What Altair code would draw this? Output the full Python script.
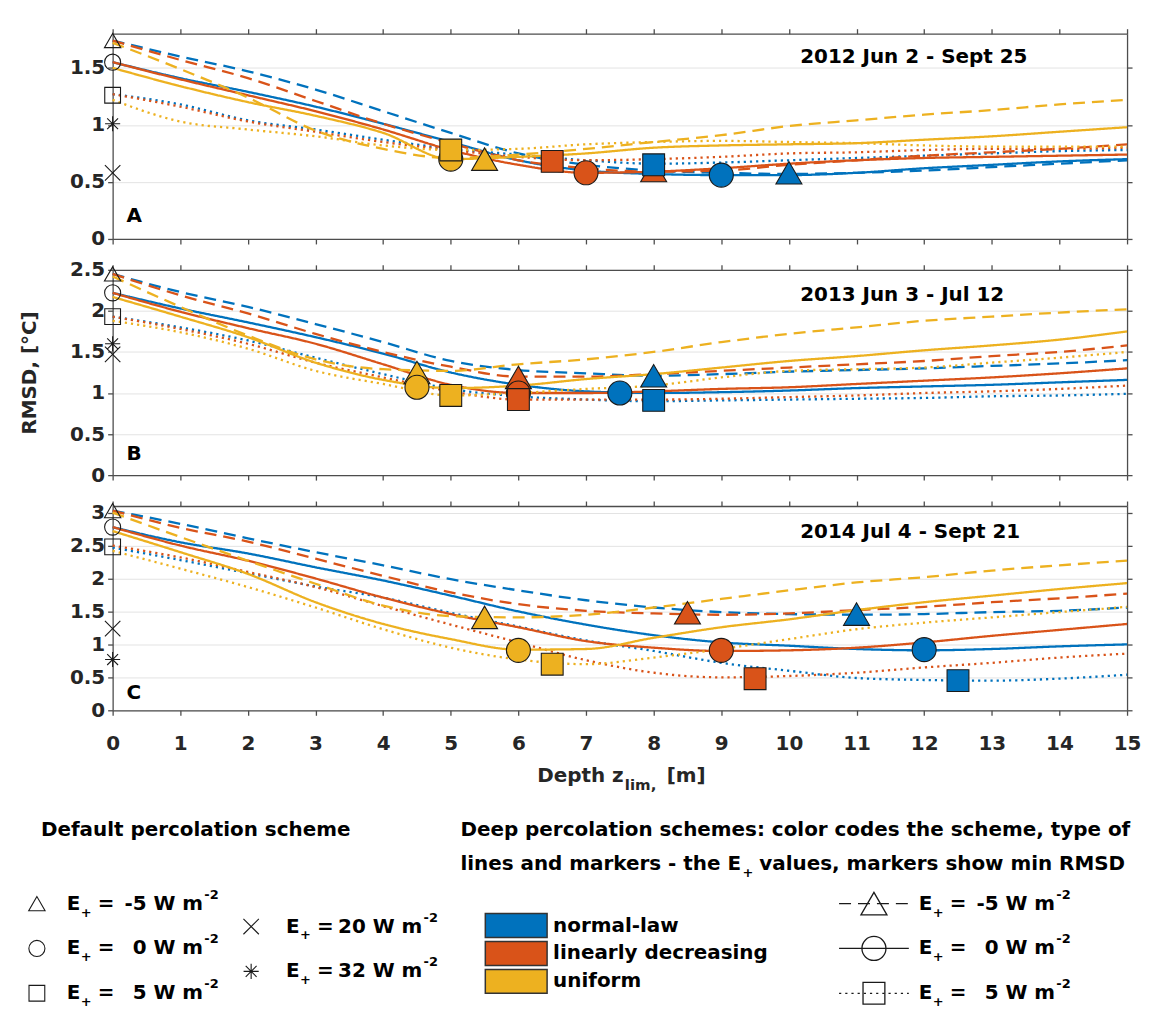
import altair as alt
import pandas as pd

# ---------------- data ----------------
DEPTH = list(range(16))
X_TICKS = list(range(16))
SCHEMES = ["normal-law", "linearly decreasing", "uniform"]
SCHEME_COLORS = ["#0072BD", "#D95319", "#EDB120"]
E_PLUS = ["-5", "0", "5"]
DEFAULT_E = ["-5", "0", "5", "20", "32"]

# Panel A: 2012 Jun 2 - Sept 25
A_NORMAL_M5 = [1.74, 1.60, 1.47, 1.31, 1.12, 0.93, 0.75, 0.65, 0.60, 0.58, 0.57, 0.58, 0.60, 0.63, 0.66, 0.69]
A_NORMAL_0 = [1.55, 1.41, 1.29, 1.16, 1.01, 0.85, 0.69, 0.60, 0.57, 0.56, 0.56, 0.58, 0.62, 0.65, 0.68, 0.70]
A_NORMAL_P5 = [1.27, 1.18, 1.04, 0.96, 0.87, 0.79, 0.74, 0.69, 0.66, 0.67, 0.69, 0.71, 0.73, 0.75, 0.77, 0.78]
A_LINEAR_M5 = [1.74, 1.57, 1.41, 1.21, 1.01, 0.84, 0.69, 0.62, 0.59, 0.60, 0.65, 0.69, 0.73, 0.76, 0.79, 0.83]
A_LINEAR_0 = [1.55, 1.40, 1.26, 1.12, 0.96, 0.78, 0.65, 0.58, 0.59, 0.62, 0.66, 0.69, 0.71, 0.72, 0.73, 0.74]
A_LINEAR_P5 = [1.27, 1.16, 1.03, 0.94, 0.85, 0.78, 0.72, 0.69, 0.70, 0.72, 0.75, 0.76, 0.78, 0.79, 0.79, 0.80]
A_UNIFORM_M5 = [1.72, 1.49, 1.24, 0.95, 0.79, 0.71, 0.74, 0.79, 0.85, 0.91, 0.99, 1.04, 1.09, 1.13, 1.18, 1.22]
A_UNIFORM_0 = [1.50, 1.34, 1.20, 1.08, 0.93, 0.70, 0.72, 0.75, 0.80, 0.82, 0.83, 0.84, 0.87, 0.90, 0.94, 0.98]
A_UNIFORM_P5 = [1.22, 1.03, 0.96, 0.90, 0.82, 0.78, 0.79, 0.83, 0.85, 0.86, 0.85, 0.84, 0.82, 0.81, 0.81, 0.81]
A_MIN_X = [10, 9, 8, 8, 7, 6.5, 5.5, 5, 5]
A_MIN_Y = [0.58, 0.56, 0.65, 0.60, 0.58, 0.68, 0.70, 0.70, 0.78]
A_DEFAULT = [1.74, 1.55, 1.26, 0.58, 1.01]

# Panel B: 2013 Jun 3 - Jul 12
B_NORMAL_M5 = [2.45, 2.23, 2.05, 1.84, 1.62, 1.39, 1.28, 1.24, 1.21, 1.23, 1.26, 1.28, 1.30, 1.33, 1.36, 1.40]
B_NORMAL_0 = [2.22, 2.03, 1.86, 1.68, 1.48, 1.25, 1.10, 1.02, 1.00, 1.01, 1.03, 1.06, 1.08, 1.10, 1.13, 1.16]
B_NORMAL_P5 = [1.93, 1.80, 1.64, 1.43, 1.23, 1.05, 0.96, 0.92, 0.90, 0.91, 0.92, 0.93, 0.94, 0.96, 0.97, 0.99]
B_LINEAR_M5 = [2.45, 2.19, 1.97, 1.72, 1.50, 1.32, 1.20, 1.20, 1.23, 1.27, 1.31, 1.35, 1.39, 1.45, 1.50, 1.58]
B_LINEAR_0 = [2.22, 1.99, 1.79, 1.60, 1.35, 1.10, 1.00, 1.00, 1.02, 1.05, 1.07, 1.11, 1.15, 1.19, 1.24, 1.30]
B_LINEAR_P5 = [1.93, 1.78, 1.60, 1.37, 1.19, 1.02, 0.92, 0.92, 0.92, 0.93, 0.95, 0.97, 1.00, 1.02, 1.05, 1.09]
B_UNIFORM_M5 = [2.42, 2.05, 1.70, 1.41, 1.29, 1.27, 1.35, 1.41, 1.50, 1.62, 1.72, 1.80, 1.88, 1.93, 1.98, 2.02]
B_UNIFORM_0 = [2.17, 1.93, 1.68, 1.37, 1.16, 1.06, 1.09, 1.17, 1.23, 1.31, 1.39, 1.45, 1.52, 1.58, 1.65, 1.75]
B_UNIFORM_P5 = [1.88, 1.74, 1.54, 1.27, 1.11, 0.97, 1.00, 1.05, 1.09, 1.19, 1.27, 1.29, 1.31, 1.37, 1.43, 1.50]
B_MIN_X = [8, 7.5, 8, 6, 6, 6, 4.5, 4.5, 5]
B_MIN_Y = [1.21, 1.00, 0.91, 1.19, 1.00, 0.92, 1.25, 1.07, 0.97]
B_DEFAULT = [2.45, 2.22, 1.93, 1.47, 1.60]

# Panel C: 2014 Jul 4 - Sept 21
C_NORMAL_M5 = [3.03, 2.83, 2.61, 2.40, 2.20, 1.99, 1.82, 1.67, 1.56, 1.49, 1.46, 1.45, 1.46, 1.49, 1.51, 1.56]
C_NORMAL_0 = [2.78, 2.55, 2.38, 2.17, 1.97, 1.74, 1.50, 1.30, 1.14, 1.03, 0.98, 0.93, 0.91, 0.93, 0.97, 1.00]
C_NORMAL_P5 = [2.47, 2.28, 2.08, 1.88, 1.71, 1.48, 1.27, 1.06, 0.90, 0.72, 0.60, 0.49, 0.46, 0.45, 0.48, 0.54]
C_LINEAR_M5 = [3.03, 2.77, 2.56, 2.30, 2.04, 1.79, 1.61, 1.51, 1.47, 1.45, 1.47, 1.52, 1.57, 1.64, 1.70, 1.77]
C_LINEAR_0 = [2.78, 2.50, 2.27, 2.00, 1.71, 1.46, 1.26, 1.05, 0.95, 0.90, 0.91, 0.95, 1.03, 1.13, 1.22, 1.31]
C_LINEAR_P5 = [2.50, 2.32, 2.10, 1.87, 1.58, 1.30, 1.03, 0.76, 0.57, 0.50, 0.52, 0.57, 0.65, 0.72, 0.80, 0.86]
C_UNIFORM_M5 = [3.00, 2.63, 2.27, 1.92, 1.59, 1.43, 1.41, 1.45, 1.56, 1.69, 1.82, 1.94, 2.02, 2.12, 2.20, 2.27]
C_UNIFORM_0 = [2.72, 2.40, 2.07, 1.64, 1.31, 1.08, 0.92, 0.93, 1.10, 1.26, 1.38, 1.52, 1.64, 1.74, 1.84, 1.93]
C_UNIFORM_P5 = [2.42, 2.15, 1.87, 1.56, 1.23, 0.95, 0.77, 0.70, 0.80, 0.93, 1.08, 1.23, 1.33, 1.41, 1.49, 1.57]
C_MIN_X = [11, 12, 12.5, 8.5, 9, 9.5, 5.5, 6, 6.5]
C_MIN_Y = [1.46, 0.92, 0.45, 1.48, 0.91, 0.48, 1.41, 0.91, 0.70]
C_DEFAULT = [3.03, 2.78, 2.48, 1.24, 0.77]

TITLES = ["2012 Jun 2 - Sept 25", "2013 Jun 3 - Jul 12", "2014 Jul 4 - Sept 21"]
LETTERS = ["A", "B", "C"]

# ---------------- styles ----------------
FONT = "DejaVu Sans"
AXIS_COLOR = "#4d4d4d"
XPATH = "M-1,-1L1,1M-1,1L1,-1"
STAR = "M-1,0L1,0M0,-1L0,1M-0.72,-0.72L0.72,0.72M-0.72,0.72L0.72,-0.72"

COLOR_SCALE = alt.Scale(domain=SCHEMES, range=SCHEME_COLORS)
DASH_SCALE = alt.Scale(domain=E_PLUS, range=[[12, 7], [1, 0], [2.2, 4]])
MIN_SHAPE = alt.Scale(domain=E_PLUS, range=["triangle-up", "circle", "square"])
MIN_SIZE = alt.Scale(domain=E_PLUS, range=[680, 480, 300])
DEF_SHAPE = alt.Scale(domain=DEFAULT_E, range=["triangle-up", "circle", "square", XPATH, STAR])
DEF_SIZE = alt.Scale(domain=DEFAULT_E, range=[270, 230, 150, 110, 160])

PLOT_W = 1018


def line_table(series):
    rows = []
    for scheme, e, vals in series:
        for d, v in zip(DEPTH, vals):
            rows.append({"depth": d, "rmsd": v, "scheme": scheme, "e": e})
    return pd.DataFrame(rows)


def min_table(xs, ys):
    keys = [(s, e) for s in SCHEMES for e in E_PLUS]
    rows = [{"depth": x, "rmsd": y, "scheme": k[0], "e": k[1], "eo": E_PLUS.index(k[1])}
            for k, x, y in zip(keys, xs, ys)]
    return pd.DataFrame(rows).sort_values("eo", kind="stable")


def default_table(vals):
    return pd.DataFrame({"depth": [0] * len(vals), "rmsd": vals, "e": DEFAULT_E})


def panel(series, min_x, min_y, defaults, ymax, yticks, height, title, title_y,
          letter, letter_y, is_bottom, ytitle):
    xs = alt.Scale(domain=[0, 15], nice=False, zero=False)
    ys = alt.Scale(domain=[0, ymax], nice=False, zero=False)

    bottom_kw = dict(orient="bottom", values=X_TICKS, labels=is_bottom, grid=False,
                     labelFlush=False, format="d", tickSize=5, labelPadding=18, title=None)
    left_kw = dict(orient="left", values=yticks, format="~g", grid=True, tickSize=5,
                   labelPadding=3, title=None)
    if ytitle:
        left_kw.update(title=ytitle, titleFontSize=20, titleFontWeight="bold", titleFont=FONT,
                       titlePadding=30, titleColor="#262626")

    lines = alt.Chart(line_table(series)).mark_line(strokeWidth=2.3, interpolate="monotone").encode(
        x=alt.X("depth:Q", scale=xs, axis=alt.Axis(**bottom_kw)),
        y=alt.Y("rmsd:Q", scale=ys, axis=alt.Axis(**left_kw)),
        color=alt.Color("scheme:N", scale=COLOR_SCALE, legend=None),
        strokeDash=alt.StrokeDash("e:N", scale=DASH_SCALE, legend=None),
    )

    defs = alt.Chart(default_table(defaults)).mark_point(
        filled=False, color="#1a1a1a", strokeWidth=1.1, opacity=1).encode(
        x=alt.X("depth:Q", scale=xs, axis=alt.Axis(orient="top", values=X_TICKS, labels=False,
                                                    grid=False, tickSize=5, title=None)),
        y=alt.Y("rmsd:Q", scale=ys, axis=alt.Axis(orient="right", values=yticks, labels=False,
                                                   grid=False, tickSize=5, title=None)),
        shape=alt.Shape("e:N", scale=DEF_SHAPE, legend=None),
        size=alt.Size("e:O", scale=DEF_SIZE, legend=None),
    )

    mins = alt.Chart(min_table(min_x, min_y)).mark_point(
        filled=True, stroke="#1a1a1a", strokeWidth=1.1, opacity=1, fillOpacity=1).encode(
        x=alt.X("depth:Q", scale=xs, axis=None),
        y=alt.Y("rmsd:Q", scale=ys, axis=None),
        fill=alt.Fill("scheme:N", scale=COLOR_SCALE, legend=None),
        shape=alt.Shape("e:N", scale=MIN_SHAPE, legend=None),
        size=alt.Size("e:O", scale=MIN_SIZE, legend=None),
    )

    ttl = alt.Chart(pd.DataFrame({"t": [title]})).mark_text(
        align="left", baseline="middle", font=FONT, fontSize=20, fontWeight="bold", color="black").encode(
        x=alt.value(690), y=alt.value(title_y), text="t:N")
    let = alt.Chart(pd.DataFrame({"t": [letter]})).mark_text(
        align="left", baseline="middle", font=FONT, fontSize=20, fontWeight="bold", color="black").encode(
        x=alt.value(14), y=alt.value(letter_y), text="t:N")

    layers = [lines, mins, defs, ttl, let]
    if is_bottom:
        xt = pd.DataFrame({"t": ["Depth z", "lim,", "[m]"], "px": [426, 514, 556],
                           "py": [271, 280, 271], "fs": [20, 15, 20]})
        xtitle = alt.Chart(xt).mark_text(align="left", baseline="middle", font=FONT,
                                         fontWeight="bold", color="#262626").encode(
            x=alt.X("px:Q", scale=None, axis=None),
            y=alt.Y("py:Q", scale=None, axis=None),
            size=alt.Size("fs:Q", scale=None, legend=None),
            text="t:N")
        layers.append(xtitle)

    return alt.layer(*layers).resolve_scale(
        shape="independent", size="independent").resolve_axis(
        x="independent", y="independent").properties(width=PLOT_W, height=height)


A = panel([(SCHEMES[0], "-5", A_NORMAL_M5), (SCHEMES[0], "0", A_NORMAL_0), (SCHEMES[0], "5", A_NORMAL_P5),
           (SCHEMES[1], "-5", A_LINEAR_M5), (SCHEMES[1], "0", A_LINEAR_0), (SCHEMES[1], "5", A_LINEAR_P5),
           (SCHEMES[2], "-5", A_UNIFORM_M5), (SCHEMES[2], "0", A_UNIFORM_0), (SCHEMES[2], "5", A_UNIFORM_P5)],
          A_MIN_X, A_MIN_Y, A_DEFAULT, 1.8, [0, 0.5, 1, 1.5], 206, TITLES[0], 23, LETTERS[0], 183, False, "")
B = panel([(SCHEMES[0], "-5", B_NORMAL_M5), (SCHEMES[0], "0", B_NORMAL_0), (SCHEMES[0], "5", B_NORMAL_P5),
           (SCHEMES[1], "-5", B_LINEAR_M5), (SCHEMES[1], "0", B_LINEAR_0), (SCHEMES[1], "5", B_LINEAR_P5),
           (SCHEMES[2], "-5", B_UNIFORM_M5), (SCHEMES[2], "0", B_UNIFORM_0), (SCHEMES[2], "5", B_UNIFORM_P5)],
          B_MIN_X, B_MIN_Y, B_DEFAULT, 2.5, [0, 0.5, 1, 1.5, 2, 2.5], 206, TITLES[1], 25, LETTERS[1], 185,
          False, "RMSD, [°C]")
C = panel([(SCHEMES[0], "-5", C_NORMAL_M5), (SCHEMES[0], "0", C_NORMAL_0), (SCHEMES[0], "5", C_NORMAL_P5),
           (SCHEMES[1], "-5", C_LINEAR_M5), (SCHEMES[1], "0", C_LINEAR_0), (SCHEMES[1], "5", C_LINEAR_P5),
           (SCHEMES[2], "-5", C_UNIFORM_M5), (SCHEMES[2], "0", C_UNIFORM_0), (SCHEMES[2], "5", C_UNIFORM_P5)],
          C_MIN_X, C_MIN_Y, C_DEFAULT, 3.1, [0, 0.5, 1, 1.5, 2, 2.5, 3], 205, TITLES[2], 26, LETTERS[2], 188,
          True, "")

# ---------------- legend panel (page-pixel layout) ----------------
GAP = 31
LT = 30 + 206 + GAP + 206 + GAP + 205 + GAP
LB = 1008
LXS = alt.Scale(domain=[114, 114 + PLOT_W], nice=False, zero=False)
LYS = alt.Scale(domain=[LT, LB], reverse=True, nice=False, zero=False)
ROWS = [903, 948, 993]
ROWS2 = [926, 971]
SWATCH_ROWS = [925, 953, 981]


def e_label(x0, y, val, left, right):
    left += [("E", x0, y, 20), ("+", x0 + 14, y + 9, 13), ("=", x0 + 31, y, 20),
             ("W m", x0 + 87, y, 20), ("-2", x0 + 138, y - 9, 13)]
    right.append((val, x0 + 80, y, 20))


left_items = [("Default percolation scheme", 42, 829, 20),
              ("Deep percolation schemes: color codes the scheme, type of", 463, 829, 20),
              ("lines and markers - the E", 463, 863, 20),
              ("+", 746, 872, 13),
              ("values, markers show min RMSD", 763, 863, 20)]
right_items = []
for s, y in zip(SCHEMES, SWATCH_ROWS):
    left_items.append((s, 556, y, 20))
for v, y in zip(E_PLUS, ROWS):
    e_label(68, y, v, left_items, right_items)
    e_label(923, y, v, left_items, right_items)
for v, y in zip(DEFAULT_E[3:], ROWS2):
    e_label(288, y, v, left_items, right_items)


def text_layer(items, align):
    df = pd.DataFrame(items, columns=["t", "px", "py", "fs"])
    return alt.Chart(df).mark_text(align=align, baseline="middle", font=FONT, fontWeight="bold",
                                   color="black").encode(
        x=alt.X("px:Q", scale=LXS, axis=None), y=alt.Y("py:Q", scale=LYS, axis=None),
        size=alt.Size("fs:Q", scale=None, legend=None), text="t:N")


def_sym = pd.DataFrame({"px": [38, 38, 38, 253, 253], "py": ROWS + ROWS2, "e": DEFAULT_E})
def_sym_layer = alt.Chart(def_sym).mark_point(filled=False, color="#1a1a1a", strokeWidth=1.1, opacity=1).encode(
    x=alt.X("px:Q", scale=LXS, axis=None), y=alt.Y("py:Q", scale=LYS, axis=None),
    shape=alt.Shape("e:N", scale=DEF_SHAPE, legend=None),
    size=alt.Size("e:O", scale=DEF_SIZE, legend=None))

sw = pd.DataFrame({"scheme": SCHEMES, "x1": [488] * 3, "x2": [550] * 3,
                   "y1": [y - 12 for y in SWATCH_ROWS], "y2": [y + 12 for y in SWATCH_ROWS]})
sw_layer = alt.Chart(sw).mark_rect(stroke="#333333", strokeWidth=1.5).encode(
    x=alt.X("x1:Q", scale=LXS, axis=None), x2="x2:Q",
    y=alt.Y("y1:Q", scale=LYS, axis=None), y2="y2:Q",
    fill=alt.Fill("scheme:N", scale=COLOR_SCALE, legend=None))

seg = pd.DataFrame({"e": E_PLUS, "x1": [843] * 3, "x2": [913] * 3, "xm": [878] * 3, "py": ROWS})
seg_layer = alt.Chart(seg).mark_rule(color="#1a1a1a", strokeWidth=1.3).encode(
    x=alt.X("x1:Q", scale=LXS, axis=None), x2="x2:Q",
    y=alt.Y("py:Q", scale=LYS, axis=None),
    strokeDash=alt.StrokeDash("e:N", scale=DASH_SCALE, legend=None))
seg_sym = alt.Chart(seg).mark_point(filled=False, color="#1a1a1a", strokeWidth=1.3, opacity=1).encode(
    x=alt.X("xm:Q", scale=LXS, axis=None), y=alt.Y("py:Q", scale=LYS, axis=None),
    shape=alt.Shape("e:N", scale=MIN_SHAPE, legend=None),
    size=alt.Size("e:O", scale=MIN_SIZE, legend=None))

LEG = alt.layer(sw_layer, seg_layer, seg_sym, def_sym_layer,
                text_layer(left_items, "left"), text_layer(right_items, "right")).resolve_scale(
    shape="independent", size="independent").properties(
    width=PLOT_W, height=LB - LT, view=alt.ViewBackground(stroke="transparent"))

chart = alt.vconcat(A, B, C, LEG, spacing=GAP, bounds="flush").properties(
    padding={"left": 11, "top": 17, "right": 0, "bottom": 0}
).configure_view(stroke="transparent").configure_axis(
    domainColor=AXIS_COLOR, domainWidth=1.3, tickColor=AXIS_COLOR, tickWidth=1.3,
    labelFont=FONT, labelFontSize=20, labelFontWeight="bold", labelColor="#262626",
    gridColor="#e3e3e3", gridWidth=1
)

chart.save("out.html", embed_options={"renderer": "svg", "actions": False})
